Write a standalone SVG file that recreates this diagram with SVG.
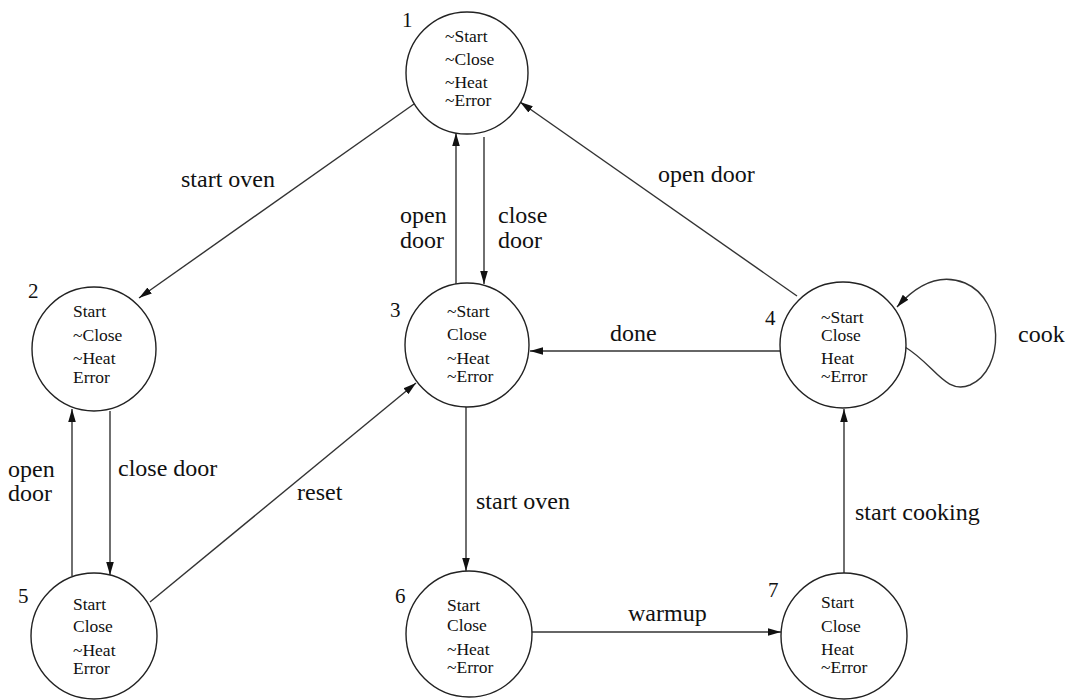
<svg xmlns="http://www.w3.org/2000/svg" width="1073" height="700" viewBox="0 0 1073 700">
<style>
.st{fill:#fff;stroke:#222;stroke-width:1.4}
.t{font-family:"Liberation Serif","Times New Roman",serif;font-size:17.5px;fill:#111}
.n{font-family:"Liberation Serif","Times New Roman",serif;font-size:21px;fill:#111}
.l{font-family:"Liberation Serif","Times New Roman",serif;font-size:24px;fill:#111}
.e{fill:none;stroke:#333;stroke-width:1.4}
</style>
<defs>
<marker id="ah" viewBox="0 0 12 10" refX="12" refY="5" markerWidth="13" markerHeight="11" markerUnits="userSpaceOnUse" orient="auto">
<path d="M0,1.5 L12,5 L0,8.5 z" fill="#111"/>
</marker>
</defs>
<rect width="1073" height="700" fill="#fff"/>
<g id="connectors">
<line class="e" x1="414" y1="104" x2="139" y2="298" marker-end="url(#ah)"/>
<line class="e" x1="456" y1="284" x2="456" y2="133" marker-end="url(#ah)"/>
<line class="e" x1="484" y1="137" x2="484" y2="284" marker-end="url(#ah)"/>
<line class="e" x1="797" y1="296" x2="520" y2="102" marker-end="url(#ah)"/>
<line class="e" x1="780" y1="351" x2="530" y2="351" marker-end="url(#ah)"/>
<line class="e" x1="110" y1="411" x2="110" y2="575" marker-end="url(#ah)"/>
<line class="e" x1="72" y1="576" x2="72" y2="409" marker-end="url(#ah)"/>
<line class="e" x1="150" y1="602" x2="416" y2="383" marker-end="url(#ah)"/>
<line class="e" x1="466" y1="407" x2="466" y2="571" marker-end="url(#ah)"/>
<line class="e" x1="532" y1="632" x2="781" y2="632" marker-end="url(#ah)"/>
<line class="e" x1="844" y1="573" x2="844" y2="409" marker-end="url(#ah)"/>
<path class="e" d="M905,347 C935,365 945,395 970,385 C1005,370 1005,300 965,283 C935,271 912,290 897,307" marker-end="url(#ah)"/>
<text class="l" x="181" y="187">start oven</text>
<text class="l" x="400" y="223">open</text>
<text class="l" x="400" y="248">door</text>
<text class="l" x="498" y="223">close</text>
<text class="l" x="498" y="248">door</text>
<text class="l" x="658" y="182">open door</text>
<text class="l" x="610" y="341">done</text>
<text class="l" x="1018" y="342">cook</text>
<text class="l" x="8" y="477">open</text>
<text class="l" x="8" y="501">door</text>
<text class="l" x="118" y="476">close door</text>
<text class="l" x="297" y="500">reset</text>
<text class="l" x="476" y="509">start oven</text>
<text class="l" x="628" y="621">warmup</text>
<text class="l" x="855" y="520">start cooking</text>
</g>
<g id="s1">
<circle class="st" cx="467" cy="73" r="61"/>
<text class="n" x="402" y="27">1</text>
<text class="t" x="445" y="42">~Start</text>
<text class="t" x="445" y="65">~Close</text>
<text class="t" x="445" y="88">~Heat</text>
<text class="t" x="445" y="106">~Error</text>
</g>
<g id="s2">
<circle class="st" cx="94" cy="349" r="62"/>
<text class="n" x="28" y="298">2</text>
<text class="t" x="73" y="317">Start</text>
<text class="t" x="73" y="341">~Close</text>
<text class="t" x="73" y="364">~Heat</text>
<text class="t" x="73" y="383">Error</text>
</g>
<g id="s3">
<circle class="st" cx="467" cy="345" r="62"/>
<text class="n" x="390" y="317">3</text>
<text class="t" x="447" y="317">~Start</text>
<text class="t" x="447" y="340">Close</text>
<text class="t" x="447" y="364">~Heat</text>
<text class="t" x="447" y="382">~Error</text>
</g>
<g id="s4">
<circle class="st" cx="843" cy="345" r="63"/>
<text class="n" x="765" y="325">4</text>
<text class="t" x="821" y="323">~Start</text>
<text class="t" x="821" y="341">Close</text>
<text class="t" x="821" y="364">Heat</text>
<text class="t" x="821" y="382">~Error</text>
</g>
<g id="s5">
<circle class="st" cx="94" cy="636" r="63"/>
<text class="n" x="18" y="603">5</text>
<text class="t" x="73" y="610">Start</text>
<text class="t" x="73" y="632">Close</text>
<text class="t" x="73" y="656">~Heat</text>
<text class="t" x="73" y="674">Error</text>
</g>
<g id="s6">
<circle class="st" cx="469" cy="634" r="63"/>
<text class="n" x="395" y="603">6</text>
<text class="t" x="447" y="611">Start</text>
<text class="t" x="447" y="631">Close</text>
<text class="t" x="447" y="655">~Heat</text>
<text class="t" x="447" y="673">~Error</text>
</g>
<g id="s7">
<circle class="st" cx="844" cy="636" r="63"/>
<text class="n" x="768" y="597">7</text>
<text class="t" x="821" y="608">Start</text>
<text class="t" x="821" y="632">Close</text>
<text class="t" x="821" y="655">Heat</text>
<text class="t" x="821" y="673">~Error</text>
</g>
</svg>
